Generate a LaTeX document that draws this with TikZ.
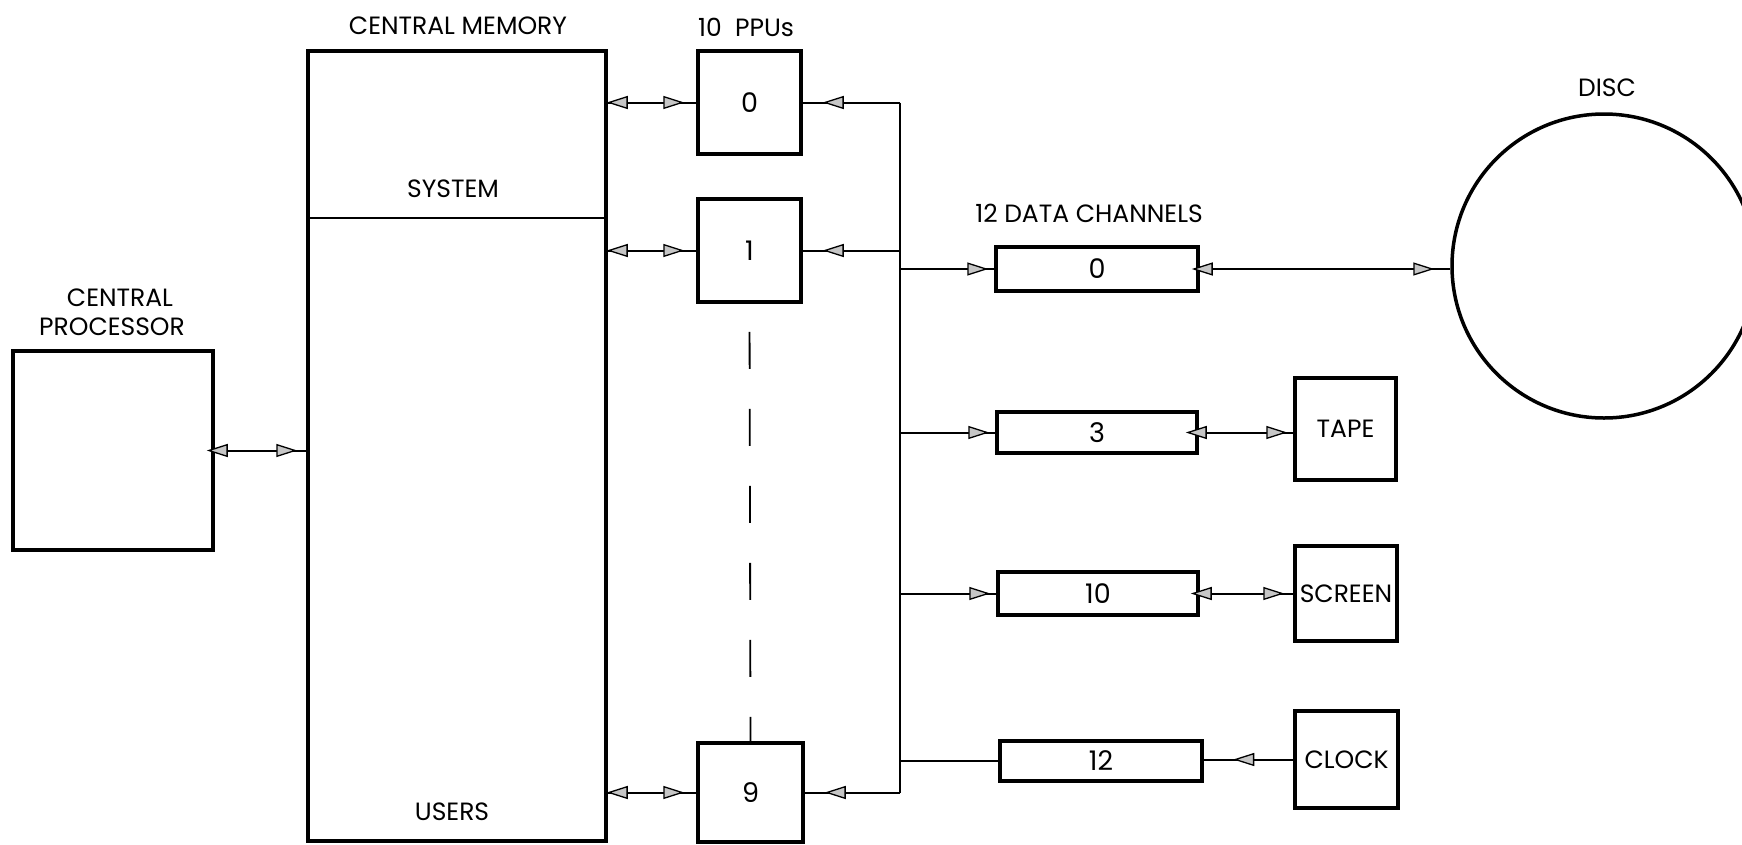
\documentclass[tikz,border=0pt]{standalone}
\usepackage{fontspec}
\setmainfont{Poppins}
\usetikzlibrary{arrows.meta,decorations.markings}
\begin{document}
\begin{tikzpicture}[x=1pt,y=-1pt,
  >={Triangle[length=21pt,width=13pt,fill=gray!45,line width=1.3pt]},
  box/.style={draw,line width=3.5pt,inner sep=0pt,font=\fontsize{27}{30}\selectfont},
  lbl/.style={inner sep=0pt,font=\fontsize{25}{29}\selectfont},
  conn/.style={line width=2pt},
  fwd/.style={postaction={decorate,decoration={markings,mark=at position #1 with {\arrow{>}}}}},
  bwd/.style={postaction={decorate,decoration={markings,mark=at position #1 with {\arrow{<}}}}},
]
\useasboundingbox (0,0) rectangle (1742,844);
\clip (0,0) rectangle (1742,844);
\fill[white] (0,0) rectangle (1742,844);

% central processor
\node[box,minimum width=200pt,minimum height=199pt] (cp) at (113,450.5) {};
\node[lbl] (cpl1) at (120,298) {CENTRAL};
\node[lbl] (cpl2) at (112,327) {PROCESSOR};

% central memory
\node[box,minimum width=298pt,minimum height=790pt] (mem) at (457,446) {};
\node[lbl] (meml) at (458,26) {CENTRAL MEMORY};
\node[lbl] (sys) at (453,189) {SYSTEM};
\node[lbl] (usr) at (452,812) {USERS};
\draw[line width=2.5pt] (mem.west |- 0,218) -- (mem.east |- 0,218);

% PPUs
\node[lbl] (ppul) at (746,27) {10\ \ PPUs};
\node[box,minimum width=103pt,minimum height=103pt] (ppu0) at (749.5,102.5) {0};
\node[box,minimum width=103pt,minimum height=103pt] (ppu1) at (749.5,250.5) {1};
\node[box,minimum width=105pt,minimum height=99pt] (ppu9) at (750.5,792.5) {9};
\draw[line width=1.8pt,dash pattern=on 37pt off 40pt,dash phase=49pt] (ppu1.south) -- (ppu9.north);

% data channels
\node[lbl] (chl) at (1089,213) {12 DATA CHANNELS};
\node[box,minimum width=202pt,minimum height=44pt] (ch0) at (1097,269) {0};
\node[box,minimum width=200pt,minimum height=41pt] (ch3) at (1097,432.5) {3};
\node[box,minimum width=200pt,minimum height=43pt] (ch10) at (1098,593.5) {10};
\node[box,minimum width=202pt,minimum height=40pt] (ch12) at (1101,761) {12};

% devices
\node[box,minimum width=101pt,minimum height=102pt,font=\fontsize{25}{29}\selectfont] (tape) at (1345.5,429) {TAPE};
\node[box,minimum width=102pt,minimum height=95pt,font=\fontsize{25}{29}\selectfont] (screen) at (1346,593.5) {SCREEN};
\node[box,minimum width=103pt,minimum height=97pt,font=\fontsize{25}{29}\selectfont] (clock) at (1346.5,759.5) {CLOCK};
\node[draw,circle,line width=3.5pt,minimum size=304pt,inner sep=0pt] (disc) at (1604,266) {};
\node[lbl] (discl) at (1607,88) {DISC};

% bus
\coordinate (b0) at (900,0);
\draw[conn] (b0 |- ppu0) -- (b0 |- ppu9);

% connectors
\draw[conn,bwd=13pt,fwd=-9pt] (cp.east) -- (mem.west |- cp.east);
\draw[conn,bwd=20pt,fwd=-12pt] (mem.east |- ppu0) -- (ppu0.west);
\draw[conn,bwd=20pt,fwd=-12pt] (mem.east |- ppu1) -- (ppu1.west);
\draw[conn,bwd=20pt,fwd=-12pt] (mem.east |- ppu9) -- (ppu9.west);
\draw[conn,fwd=-20pt] (b0 |- ppu0) -- (ppu0.east);
\draw[conn,fwd=-20pt] (b0 |- ppu1) -- (ppu1.east);
\draw[conn,fwd=-20pt] (b0 |- ppu9) -- (ppu9.east);
\draw[conn,fwd=-6pt] (b0 |- ch0) -- (ch0.west);
\draw[conn,fwd=-6pt] (b0 |- ch3) -- (ch3.west);
\draw[conn,fwd=-6pt] (b0 |- ch10) -- (ch10.west);
\draw[conn] (ch12.west) -- (b0 |- ch12);
\draw[conn,bwd=13pt,fwd=-16pt] (ch0.east) -- (disc.west |- ch0.east);
\draw[conn,bwd=8pt,fwd=-6pt] (ch3.east) -- (tape.west |- ch3.east);
\draw[conn,bwd=12pt,fwd=-9pt] (ch10.east) -- (screen.west |- ch10.east);
\draw[conn,fwd=60pt] (clock.west) -- (ch12.east |- clock.west);
\end{tikzpicture}
\end{document}
